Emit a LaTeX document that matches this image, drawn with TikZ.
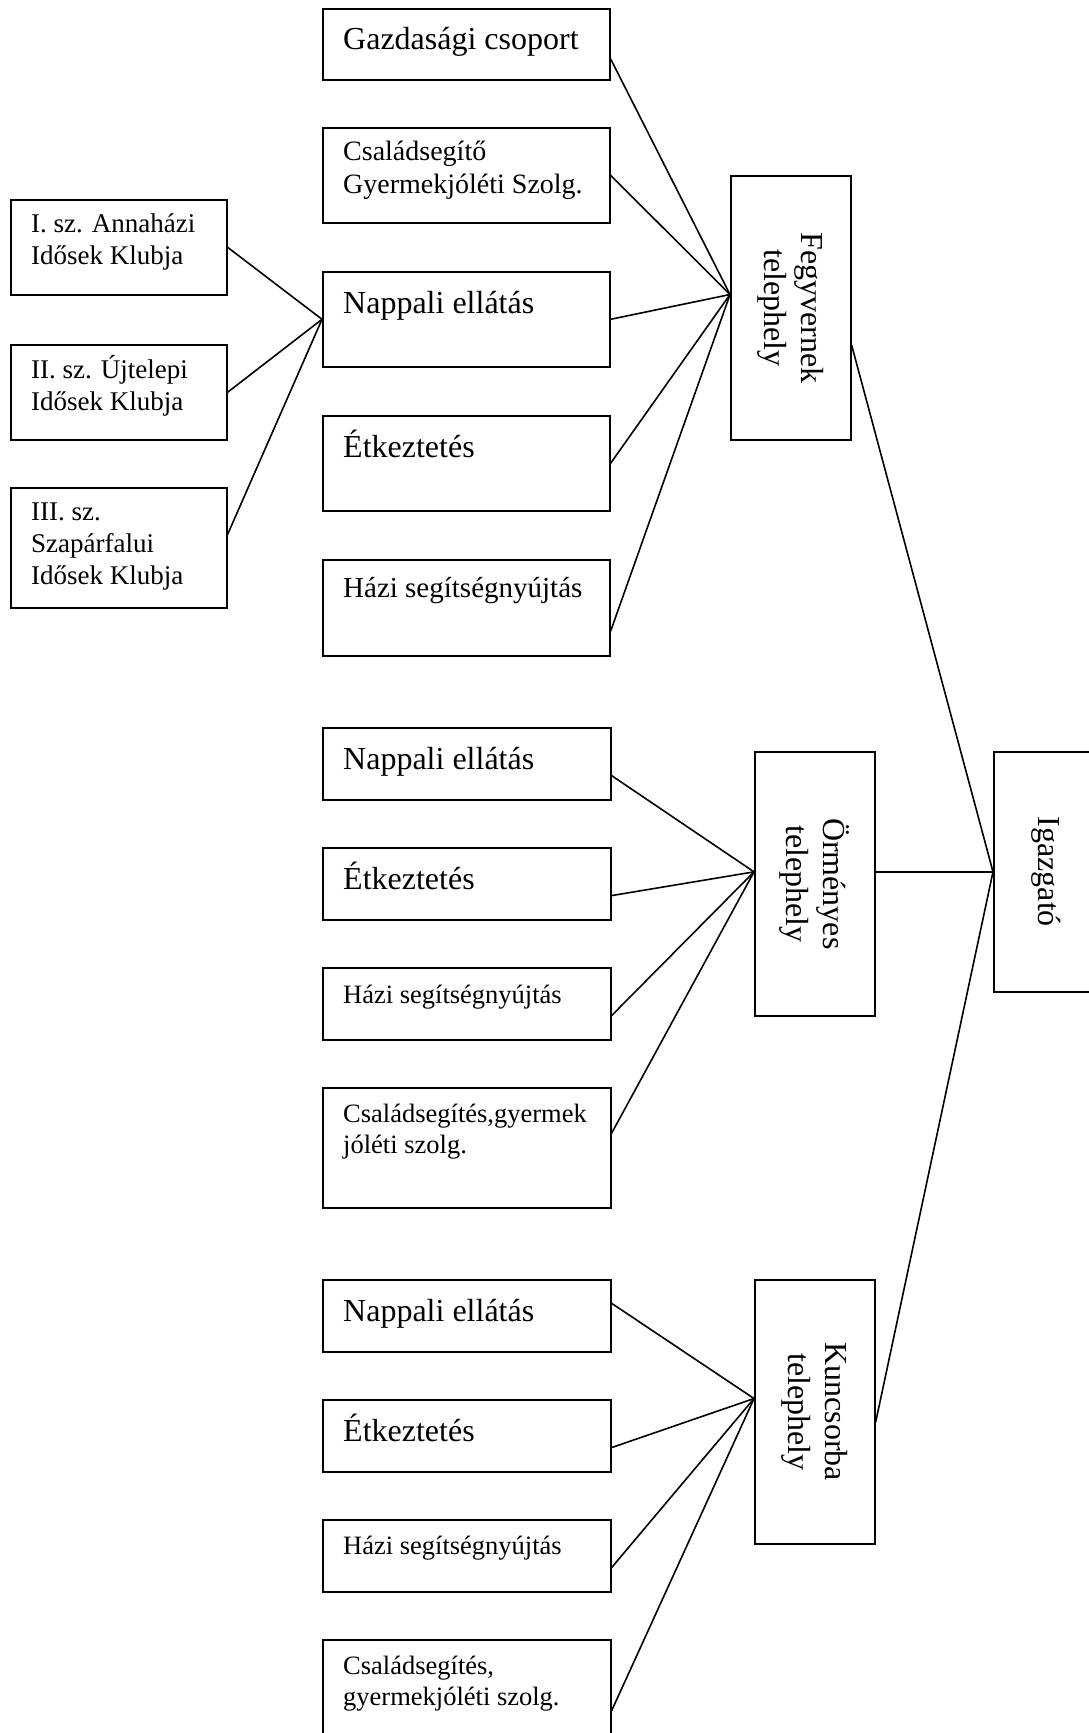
\documentclass[tikz,border=0pt]{standalone}
\usepackage{fontspec}
\setmainfont{Liberation Serif}
\usetikzlibrary{calc}
\newcommand{\tl}[1]{\parbox[t]{420pt}{\raggedright #1}}
\tikzset{
 box/.style={draw, line width=1.6pt, inner sep=0pt, anchor=north west},
 txt/.style={inner sep=0pt, anchor=base west},
 big/.style={font=\fontsize{32}{37}\selectfont},
 mdf/.style={font=\fontsize{28}{33}\selectfont},
 hzf/.style={font=\fontsize{29}{34}\selectfont},
 lft/.style={font=\fontsize{27}{32}\selectfont},
 sml/.style={font=\fontsize{26.5}{31.5}\selectfont},
 vert/.style={rotate=-90, align=center, inner sep=0pt, font=\fontsize{32}{37}\selectfont},
 conn/.style={line width=1.6pt},
}
\begin{document}
\begin{tikzpicture}[x=1pt,y=-1pt]
\useasboundingbox (0,0) rectangle (1089,1733);
% ---------- boxes ----------
\node[box, minimum width=287pt, minimum height=71pt] (g1) at (322,8) {};
\node[box, minimum width=287pt, minimum height=95pt] (g2) at (322,127) {};
\node[box, minimum width=287pt, minimum height=95pt] (g3) at (322,271) {};
\node[box, minimum width=287pt, minimum height=95pt] (g4) at (322,415) {};
\node[box, minimum width=287pt, minimum height=96pt] (g5) at (322,559) {};
\node[box, minimum width=216pt, minimum height=95pt] (a1) at (10,199) {};
\node[box, minimum width=216pt, minimum height=95pt] (a2) at (10,344) {};
\node[box, minimum width=216pt, minimum height=120pt] (a3) at (10,487) {};
\node[box, minimum width=120pt, minimum height=264pt] (F) at (730,175) {};
\node[box, minimum width=104pt, minimum height=240pt] (I) at (993,751) {};
\node[box, minimum width=120pt, minimum height=264pt] (O) at (754,751) {};
\node[box, minimum width=288pt, minimum height=72pt] (o1) at (322,727) {};
\node[box, minimum width=288pt, minimum height=72pt] (o2) at (322,847) {};
\node[box, minimum width=288pt, minimum height=72pt] (o3) at (322,967) {};
\node[box, minimum width=288pt, minimum height=120pt] (o4) at (322,1087) {};
\node[box, minimum width=120pt, minimum height=264pt] (K) at (754,1279) {};
\node[box, minimum width=288pt, minimum height=72pt] (k1) at (322,1279) {};
\node[box, minimum width=288pt, minimum height=72pt] (k2) at (322,1399) {};
\node[box, minimum width=288pt, minimum height=72pt] (k3) at (322,1519) {};
\node[box, minimum width=288pt, minimum height=120pt] (k4) at (322,1639) {};
% ---------- texts ----------
\node[txt, big] (tg1) at (343,49) {\tl{Gazdasági csoport}};
\node[txt, mdf] (tg2) at (343,160) {\tl{Családsegítő\\Gyermekjóléti Szolg.}};
\node[txt, big] (tg3) at (343,313) {\tl{Nappali ellátás}};
\node[txt, big] (tg4) at (343,457) {\tl{Étkeztetés}};
\node[txt, hzf] (tg5) at (343,597) {\tl{Házi segítségnyújtás}};
\node[txt, lft] (ta1) at (31,232) {\tl{I. sz. Annaházi\\Idősek Klubja}};
\node[txt, lft] (ta2) at (31,378) {\tl{II. sz. Újtelepi\\Idősek Klubja}};
\node[txt, lft] (ta3) at (31,520) {\tl{III. sz.\\Szapárfalui\\Idősek Klubja}};
\node[txt, big] (to1) at (343,769) {\tl{Nappali ellátás}};
\node[txt, big] (to2) at (343,889) {\tl{Étkeztetés}};
\node[txt, sml] (to3) at (343,1003) {\tl{Házi segítségnyújtás}};
\node[txt, sml] (to4) at (343,1122) {\tl{Családsegítés,gyermek\\jóléti szolg.}};
\node[txt, big] (tk1) at (343,1321) {\tl{Nappali ellátás}};
\node[txt, big] (tk2) at (343,1441) {\tl{Étkeztetés}};
\node[txt, sml] (tk3) at (343,1554) {\tl{Házi segítségnyújtás}};
\node[txt, sml] (tk4) at (343,1674) {\tl{Családsegítés,\\gyermekjóléti szolg.}};
\node[vert] (tF) at (F.center) {Fegyvernek\\telephely};
\node[vert] (tO) at (O.center) {Örményes\\telephely};
\node[vert] (tK) at (K.center) {Kuncsorba\\telephely};
\node[vert] (tI) at (I.center) {Igazgató};
% ---------- connectors ----------
\coordinate (Fw) at ($(F.north west)!0.45!(F.south west)$);
\coordinate (Fe) at ($(F.north east)!0.64!(F.south east)$);
\coordinate (Ow) at ($(O.north west)!0.455!(O.south west)$);
\coordinate (Kw) at ($(K.north west)!0.45!(K.south west)$);
\coordinate (Ke) at ($(K.north east)!0.54!(K.south east)$);
\draw[conn] ($(g1.north east)!0.7!(g1.south east)$) -- (Fw);
\draw[conn] (g2.east) -- (Fw);
\draw[conn] (g3.east) -- (Fw);
\draw[conn] (g4.east) -- (Fw);
\draw[conn] ($(g5.north east)!0.74!(g5.south east)$) -- (Fw);
\draw[conn] (a1.east) -- (g3.west);
\draw[conn] (a2.east) -- (g3.west);
\draw[conn] ($(a3.north east)!0.39!(a3.south east)$) -- (g3.west);
\draw[conn] (Fe) -- (I.west);
\draw[conn] (I.west) -- (I.west -| O.east);
\draw[conn] (Ke) -- (I.west);
\draw[conn] ($(o1.north east)!0.66!(o1.south east)$) -- (Ow);
\draw[conn] ($(o2.north east)!0.66!(o2.south east)$) -- (Ow);
\draw[conn] ($(o3.north east)!0.66!(o3.south east)$) -- (Ow);
\draw[conn] ($(o4.north east)!0.38!(o4.south east)$) -- (Ow);
\draw[conn] ($(k1.north east)!0.33!(k1.south east)$) -- (Kw);
\draw[conn] ($(k2.north east)!0.66!(k2.south east)$) -- (Kw);
\draw[conn] ($(k3.north east)!0.66!(k3.south east)$) -- (Kw);
\draw[conn] ($(k4.north east)!0.59!(k4.south east)$) -- (Kw);
\end{tikzpicture}
\end{document}
